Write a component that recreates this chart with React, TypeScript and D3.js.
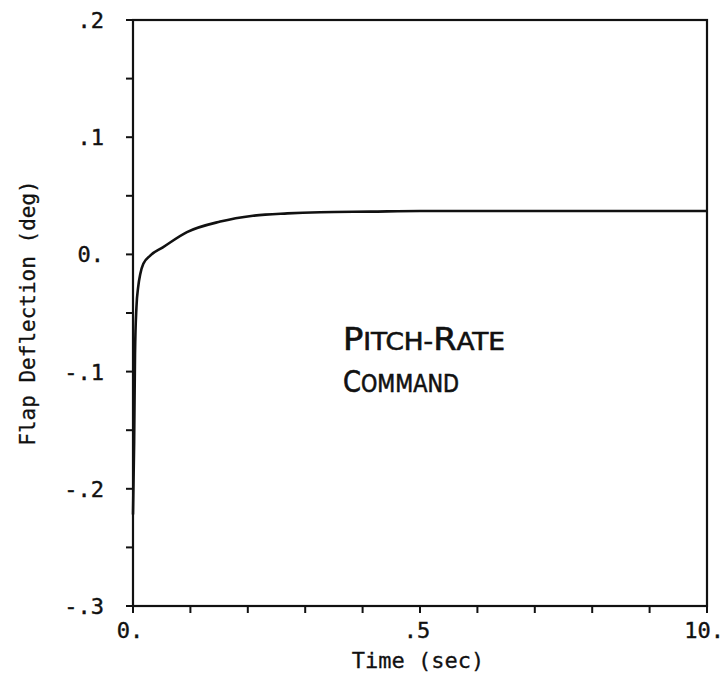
import React from "react";
import * as d3 from "d3";

const timeSec = [0, 0.02, 0.035, 0.06, 0.09, 0.13, 0.18, 0.3, 0.52, 0.94, 1.52, 2.09, 2.69, 3.26, 4.14, 5, 6, 7, 8, 9, 10];
const flapDeg = [-0.222, -0.16, -0.085, -0.045, -0.028, -0.016, -0.008, -0.001, 0.006, 0.019, 0.028, 0.033, 0.035, 0.036, 0.0365, 0.037, 0.037, 0.037, 0.037, 0.037, 0.037];

const yMajorTicks = [0.2, 0.1, 0, -0.1, -0.2, -0.3];
const yTickLabels = [".2", ".1", "0.", "-.1", "-.2", "-.3"];
const yMinorTicks = [0.15, 0.05, -0.05, -0.15, -0.25];
const xTicks = [0, 1, 2, 3, 4, 5, 6, 7, 8, 9, 10];
const xLabelValues = [0, 5, 10];
const xTickLabels = ["0.", ".5", "10."];

const W = 726;
const H = 684;
const L = 133, R = 707, T = 20, B = 606;

export default function App() {
  const x = d3.scaleLinear().domain([0, 10]).range([L, R]);
  const y = d3.scaleLinear().domain([-0.3, 0.2]).range([B, T]);
  const pts: [number, number][] = timeSec.map((t, i) => [t, flapDeg[i]]);
  const line = d3
    .line<[number, number]>()
    .x((d) => x(d[0]))
    .y((d) => y(d[1]))
    .curve(d3.curveMonotoneX);
  const mono = "'DejaVu Sans Mono', monospace";
  const letter = "'DejaVu Sans Condensed', 'DejaVu Sans', sans-serif";
  const tickLen = 7;
  const ink = "#111";
  return (
    <svg
      width={W}
      height={H}
      viewBox={`0 0 ${W} ${H}`}
      style={{ position: "absolute", left: 0, top: 0, background: "#fff" }}
    >
      <rect x={0} y={0} width={W} height={H} fill="#fff" />
      {/* frame */}
      <rect x={L} y={T} width={R - L} height={B - T} fill="none" stroke={ink} strokeWidth={2.2} />
      {/* y ticks */}
      {yMajorTicks.concat(yMinorTicks).map((v, i) => (
        <line key={"yt" + i} x1={L - tickLen} x2={L} y1={y(v)} y2={y(v)} stroke={ink} strokeWidth={2} />
      ))}
      {yMajorTicks.map((v, i) => (
        <text
          key={"yl" + i}
          x={104}
          y={y(v) + 8}
          textAnchor="end"
          fontFamily={mono}
          fontSize={22}
          fill={ink}
          stroke={ink}
          strokeWidth={0.4}
        >
          {yTickLabels[i]}
        </text>
      ))}
      {/* x ticks */}
      {xTicks.map((v, i) => (
        <line key={"xt" + i} x1={x(v)} x2={x(v)} y1={B} y2={B + tickLen} stroke={ink} strokeWidth={2} />
      ))}
      {xLabelValues.map((v, i) => (
        <text
          key={"xl" + i}
          x={i === 2 ? 724 : x(v) - 3}
          y={638}
          textAnchor={i === 2 ? "end" : "middle"}
          fontFamily={mono}
          fontSize={22}
          fill={ink}
          stroke={ink}
          strokeWidth={0.4}
        >
          {xTickLabels[i]}
        </text>
      ))}
      {/* axis titles */}
      <text x={418} y={668} textAnchor="middle" fontFamily={mono} fontSize={22} fill={ink} stroke={ink} strokeWidth={0.3}>
        Time (sec)
      </text>
      <text
        transform={`translate(35, ${313}) rotate(-90)`}
        textAnchor="middle"
        fontFamily={mono}
        fontSize={21}
        fill={ink}
        stroke={ink}
        strokeWidth={0.3}
      >
        Flap Deflection (deg)
      </text>
      {/* curve */}
      <path d={line(pts) || ""} fill="none" stroke={ink} strokeWidth={2.6} strokeLinejoin="round" />
      {/* annotation */}
      <text
        x={343}
        y={350}
        fontFamily={letter}
        fill={ink}
        stroke={ink}
        strokeWidth={0.6}
        textLength={162}
        lengthAdjust="spacingAndGlyphs"
      >
        <tspan fontSize={32}>P</tspan>
        <tspan fontSize={25}>ITCH-</tspan>
        <tspan fontSize={32}>R</tspan>
        <tspan fontSize={25}>ATE</tspan>
      </text>
      <text
        x={343}
        y={392}
        fontFamily={letter}
        fill={ink}
        stroke={ink}
        strokeWidth={0.6}
        textLength={116}
        lengthAdjust="spacingAndGlyphs"
      >
        <tspan fontSize={31}>C</tspan>
        <tspan fontSize={25}>OMMAND</tspan>
      </text>
    </svg>
  );
}
